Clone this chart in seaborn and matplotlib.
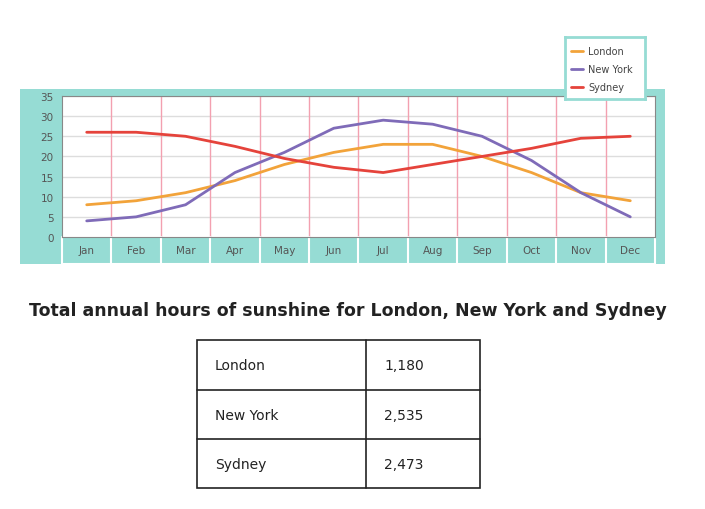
import matplotlib
matplotlib.use("Agg")
import matplotlib.pyplot as plt
import matplotlib.transforms as mtransforms
from matplotlib.patches import Rectangle
import seaborn as sns
import pandas as pd

months = ["Jan", "Feb", "Mar", "Apr", "May", "Jun", "Jul", "Aug", "Sep", "Oct", "Nov", "Dec"]
london = [8, 9, 11, 14, 18, 21, 23, 23, 20, 16, 11, 9]
new_york = [4, 5, 8, 16, 21, 27, 29, 28, 25, 19, 11, 5]
sydney = [26, 26, 25, 22.5, 19.5, 17.3, 16, 18, 20, 22, 24.5, 25]
cities = ["London", "New York", "Sydney"]
totals = ["1,180", "2,535", "2,473"]
colors = ["#f2a33a", "#7f6bb8", "#e5433b"]
teal = "#96dcd4"

df = pd.DataFrame({"month": months * 3,
                   "hours": london + new_york + sydney,
                   "city": [c for c in cities for _ in months]})
df["x"] = list(range(12)) * 3

sns.set_style("white")
fig = plt.figure(figsize=(7.05, 5.10), dpi=100)
W, H = 705, 510

# teal frame behind the chart
bg = fig.add_axes([20 / W, 1 - 265 / H, 645 / W, 175 / H], zorder=0)
bg.set_facecolor(teal)
bg.set_xticks([])
bg.set_yticks([])
for s in bg.spines.values():
    s.set_visible(False)

ax = fig.add_axes([62 / W, 1 - 238 / H, 593 / W, 141 / H], zorder=1)
ax.set_facecolor("white")
for y in range(5, 36, 5):
    ax.axhline(y, color="#dddddd", lw=1, zorder=0)
for x in range(11):
    ax.axvline(x + 0.5, color="#f3a0b0", lw=1, zorder=0)
sns.lineplot(data=df, x="x", y="hours", hue="city", palette=colors,
             linewidth=2, ax=ax, legend=False)
ax.set_xlim(-0.5, 11.5)
ax.set_ylim(0, 35)
ax.set_yticks(range(0, 36, 5))
ax.set_xticks(range(12))
ax.set_xticklabels(months)
ax.tick_params(axis="both", labelsize=7.5, colors="#555555", length=0, pad=6)
ax.set_xlabel("")
ax.set_ylabel("")
for s in ax.spines.values():
    s.set_color("#888888")
    s.set_linewidth(0.8)

# white separators between month cells in the label band
trans = mtransforms.blended_transform_factory(ax.transData, ax.transAxes)
for x in range(13):
    ax.plot([x - 0.5, x - 0.5], [0, -0.19], color="white", lw=1.5,
            transform=trans, clip_on=False)
ax.plot([-0.5, 11.5], [-0.19, -0.19], color="white", lw=1.5,
        transform=trans, clip_on=False)

# legend
lax = fig.add_axes([565 / W, 1 - 100 / H, 80 / W, 62 / H], zorder=5)
lax.set_xlim(0, 1)
lax.set_ylim(0, 1)
lax.set_xticks([])
lax.set_yticks([])
lax.set_facecolor("white")
for s in lax.spines.values():
    s.set_color(teal)
    s.set_linewidth(2)
for i, (c, col) in enumerate(zip(cities, colors)):
    yy = 0.78 - i * 0.29
    lax.plot([0.07, 0.22], [yy, yy], color=col, lw=2)
    lax.text(0.29, yy, c, va="center", fontsize=7, color="#444444")

fig.text(348 / W, 1 - 311 / H, "Total annual hours of sunshine for London, New York and Sydney",
         ha="center", va="center", fontsize=12.5, fontweight="bold", color="#222222")

# table
tax = fig.add_axes([190 / W, 1 - 495 / H, 297 / W, 160 / H])
tax.set_xlim(190, 487)
tax.set_ylim(495, 335)
tax.axis("off")
tax.add_patch(Rectangle((197, 341), 283, 148, fill=False, ec="#222222", lw=1.2))
tax.plot([366, 366], [341, 489], color="#222222", lw=1.2)
for y in (391, 440):
    tax.plot([197, 480], [y, y], color="#222222", lw=1.2)
for i, (c, t) in enumerate(zip(cities, totals)):
    yc = 366 + i * 49.5
    tax.text(215, yc, c, va="center", fontsize=10, color="#222222")
    tax.text(384, yc, t, va="center", fontsize=10, color="#222222")

fig.savefig("out.png", dpi=100)
